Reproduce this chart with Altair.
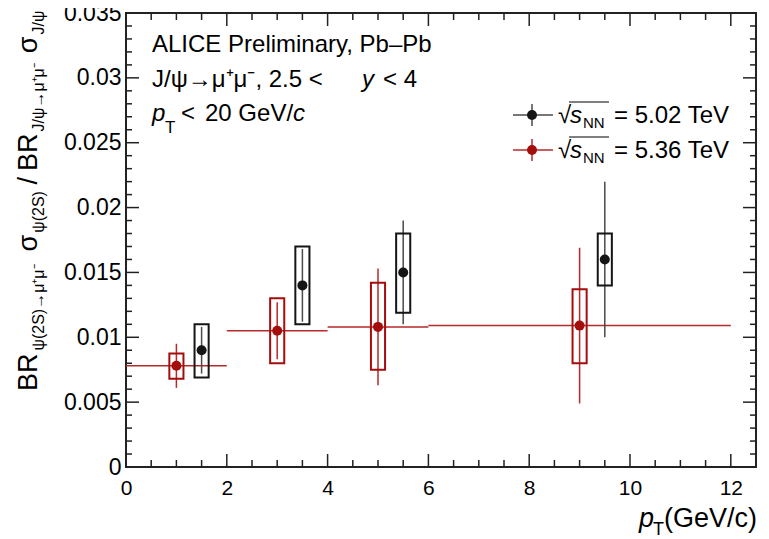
import altair as alt
import pandas as pd

# ---------------- data ----------------
red_bin_lo = [0, 2, 4, 6]
red_bin_hi = [2, 4, 6, 12]
red_x = [1.0, 3.0, 5.0, 9.0]
red_y = [0.0078, 0.0105, 0.0108, 0.0109]
red_stat = [0.0017, 0.0022, 0.0045, 0.0060]
red_sys_lo = [0.0068, 0.0080, 0.0075, 0.0080]
red_sys_hi = [0.00875, 0.0130, 0.0142, 0.0137]

blk_x = [1.5, 3.5, 5.5, 9.5]
blk_y = [0.0090, 0.0140, 0.0150, 0.0160]
blk_stat = [0.0018, 0.0028, 0.0040, 0.0060]
blk_sys_lo = [0.0069, 0.0110, 0.0119, 0.0140]
blk_sys_hi = [0.0110, 0.0170, 0.0180, 0.0180]

x_major = [0, 2, 4, 6, 8, 10, 12]
y_major = [0, 0.005, 0.01, 0.015, 0.02, 0.025, 0.03, 0.035]
x_minor = [i * 0.5 for i in range(1, 25) if i % 4 != 0]
y_minor = [round(i * 0.001, 3) for i in range(1, 35) if i % 5 != 0]

# ---------------- layout constants ----------------
W, H = 630, 454
OX, OY = 126, 13          # page position of plot origin
FONT = "Liberation Sans"
RED = "#a50d0d"
RED_LIGHT = "#b52a2a"
BLK = "#151515"
BLK_LIGHT = "#4a4a4a"
BOX_HALF = 0.14

x_scale = alt.Scale(domain=[0, 12.5], nice=False, zero=False)
y_scale = alt.Scale(domain=[0, 0.035], nice=False, zero=False)
x_axis = alt.Axis(values=x_major, title=None, ticks=False, domain=False, grid=False,
                  labelFontSize=21, labelFont=FONT, labelColor="black", labelPadding=10,
                  labelFlush=False)
y_axis = alt.Axis(values=y_major, title=None, ticks=False, domain=False, grid=False,
                  labelFontSize=23, labelFont=FONT, labelColor="black", labelPadding=5,
                  format="~g", labelFlush=False)


def X(f):
    return alt.X(f, type="quantitative", scale=x_scale, axis=x_axis)


def Y(f):
    return alt.Y(f, type="quantitative", scale=y_scale, axis=y_axis)


def series_df(xs, ys, stat, slo, shi):
    return pd.DataFrame({
        "x": xs, "y": ys,
        "ylo": [a - b for a, b in zip(ys, stat)],
        "yhi": [a + b for a, b in zip(ys, stat)],
        "bx1": [a - BOX_HALF for a in xs],
        "bx2": [a + BOX_HALF for a in xs],
        "slo": slo, "shi": shi,
    })


red_df = series_df(red_x, red_y, red_stat, red_sys_lo, red_sys_hi)
red_df["xlo"] = red_bin_lo
red_df["xhi"] = red_bin_hi
blk_df = series_df(blk_x, blk_y, blk_stat, blk_sys_lo, blk_sys_hi)

layers = []

# ticks (inside, all four sides)
def tick_layers(vals, axis, length):
    d = pd.DataFrame({"v": vals})
    out = []
    if axis == "x":
        out.append(alt.Chart(d).mark_rule(color="#222", strokeWidth=1.5).encode(
            x=X("v"), y=alt.value(H), y2=alt.value(H - length)))
        out.append(alt.Chart(d).mark_rule(color="#222", strokeWidth=1.5).encode(
            x=X("v"), y=alt.value(0), y2=alt.value(length)))
    else:
        out.append(alt.Chart(d).mark_rule(color="#222", strokeWidth=1.5).encode(
            y=Y("v"), x=alt.value(0), x2=alt.value(length)))
        out.append(alt.Chart(d).mark_rule(color="#222", strokeWidth=1.5).encode(
            y=Y("v"), x=alt.value(W), x2=alt.value(W - length)))
    return out


layers += tick_layers(x_major, "x", 13)
layers += tick_layers(x_minor, "x", 7)
layers += tick_layers(y_major, "y", 13)
layers += tick_layers(y_minor, "y", 6)

# red horizontal bin lines
layers.append(alt.Chart(red_df).mark_rule(color=RED_LIGHT, strokeWidth=1.5).encode(
    x=X("xlo"), x2="xhi", y=Y("y")))
# stat error bars
layers.append(alt.Chart(red_df).mark_rule(color=RED_LIGHT, strokeWidth=1.5).encode(
    x=X("x"), y=Y("ylo"), y2="yhi"))
layers.append(alt.Chart(blk_df).mark_rule(color=BLK_LIGHT, strokeWidth=1.5).encode(
    x=X("x"), y=Y("ylo"), y2="yhi"))
# systematic boxes
layers.append(alt.Chart(red_df).mark_rect(fillOpacity=0, stroke=RED, strokeWidth=2).encode(
    x=X("bx1"), x2="bx2", y=Y("slo"), y2="shi"))
layers.append(alt.Chart(blk_df).mark_rect(fillOpacity=0, stroke=BLK, strokeWidth=2).encode(
    x=X("bx1"), x2="bx2", y=Y("slo"), y2="shi"))
# points
layers.append(alt.Chart(red_df).mark_circle(color=RED, opacity=1, size=100).encode(
    x=X("x"), y=Y("y")))
layers.append(alt.Chart(blk_df).mark_circle(color=BLK, opacity=1, size=100).encode(
    x=X("x"), y=Y("y")))

one = pd.DataFrame({"k": [0]})


def txt(s, px, py, size, italic=False, angle=0, color="black"):
    return alt.Chart(pd.DataFrame({"t": [s]})).mark_text(
        align="left", baseline="alphabetic", fontSize=size, font=FONT,
        fontStyle="italic" if italic else "normal", color=color, angle=angle
    ).encode(x=alt.value(px - OX), y=alt.value(py - OY), text="t:N")


def hline(x1, x2, y, color, w=1.5):
    return alt.Chart(one).mark_rule(color=color, strokeWidth=w).encode(
        x=alt.value(x1 - OX), x2=alt.value(x2 - OX), y=alt.value(y - OY))


def vline(x, y1, y2, color, w=1.5):
    return alt.Chart(one).mark_rule(color=color, strokeWidth=w).encode(
        x=alt.value(x - OX), y=alt.value(y1 - OY), y2=alt.value(y2 - OY))


def dot(x, y, color):
    return alt.Chart(one).mark_circle(color=color, opacity=1, size=100).encode(
        x=alt.value(x - OX), y=alt.value(y - OY))


# annotation text (top-left)
layers.append(txt("ALICE Preliminary, Pb\u2013Pb", 152, 52, 24))
layers.append(txt("J/\u03c8\u2192\u03bc\u207a\u03bc\u207b, 2.5 <", 152, 87, 24))
layers.append(txt("y", 362, 87, 24, italic=True))
layers.append(txt("< 4", 383, 87, 24))
layers.append(txt("p", 152, 121, 24, italic=True))
layers.append(txt("T", 165, 133, 17))
layers.append(txt("<", 181, 121, 24))
layers.append(txt("20 GeV/", 205, 121, 24))
layers.append(txt("c", 293, 121, 24, italic=True))

# legend
for cy, col, lcol, lab in [(115, BLK, BLK_LIGHT, "= 5.02 TeV"), (150, RED, RED_LIGHT, "= 5.36 TeV")]:
    layers.append(hline(513, 553, cy, lcol))
    layers.append(vline(532, cy - 11, cy + 11, lcol))
    layers.append(dot(532, cy, col))
    layers.append(txt("\u221a", 558, cy + 8, 24))
    layers.append(hline(569, 609, cy - 13, "black", 1.2))
    layers.append(txt("s", 570, cy + 8, 24, italic=True))
    layers.append(txt("NN", 583, cy + 13, 15))
    layers.append(txt(lab, 614, cy + 8, 24))

# x-axis title
layers.append(txt("p", 639, 527, 27, italic=True))
layers.append(txt("T", 653, 535, 18))
layers.append(txt("(GeV/c)", 664, 527, 27))

# y-axis title (rotated, reading bottom to top)
EM = {"B": .667, "R": .722, "\u03c3": .62, "\u03c8": .75, "(": .333, ")": .333, "2": .556,
      "S": .667, "\u2192": 1.0, "\u03bc": .576, "\u207a": .45, "\u207b": .45, "J": .5,
      "/": .278, " ": .278}


def width(s, size):
    return sum(EM.get(c, .556) for c in s) * size


MAIN, SUB = 27, 16
XB_MAIN, XB_SUB = 37, 44
pieces = [("BR", MAIN, 3), ("\u03c8(2S)\u2192\u03bc\u207a\u03bc\u207b", SUB, 8), ("\u03c3", MAIN, 2),
          ("\u03c8(2S)", SUB, 6), ("/", MAIN, 6), ("BR", MAIN, 2),
          ("J/\u03c8\u2192\u03bc\u207a\u03bc\u207b", SUB, 5), ("\u03c3", MAIN, 2), ("J/\u03c8", SUB, 0)]
ycur = 391
for s, sz, gap in pieces:
    xb = XB_MAIN if sz == MAIN else XB_SUB
    layers.append(txt(s, xb, ycur, sz, angle=270))
    ycur -= width(s, sz) + gap

chart = alt.layer(*layers).properties(
    width=W, height=H,
    autosize=alt.AutoSizeParams(type="none"),
    padding={"left": 118, "top": 5, "right": 5, "bottom": 70},
).configure_view(stroke="#222222", strokeWidth=2)

chart.save("out.html", embed_options={"renderer": "svg", "actions": False})
